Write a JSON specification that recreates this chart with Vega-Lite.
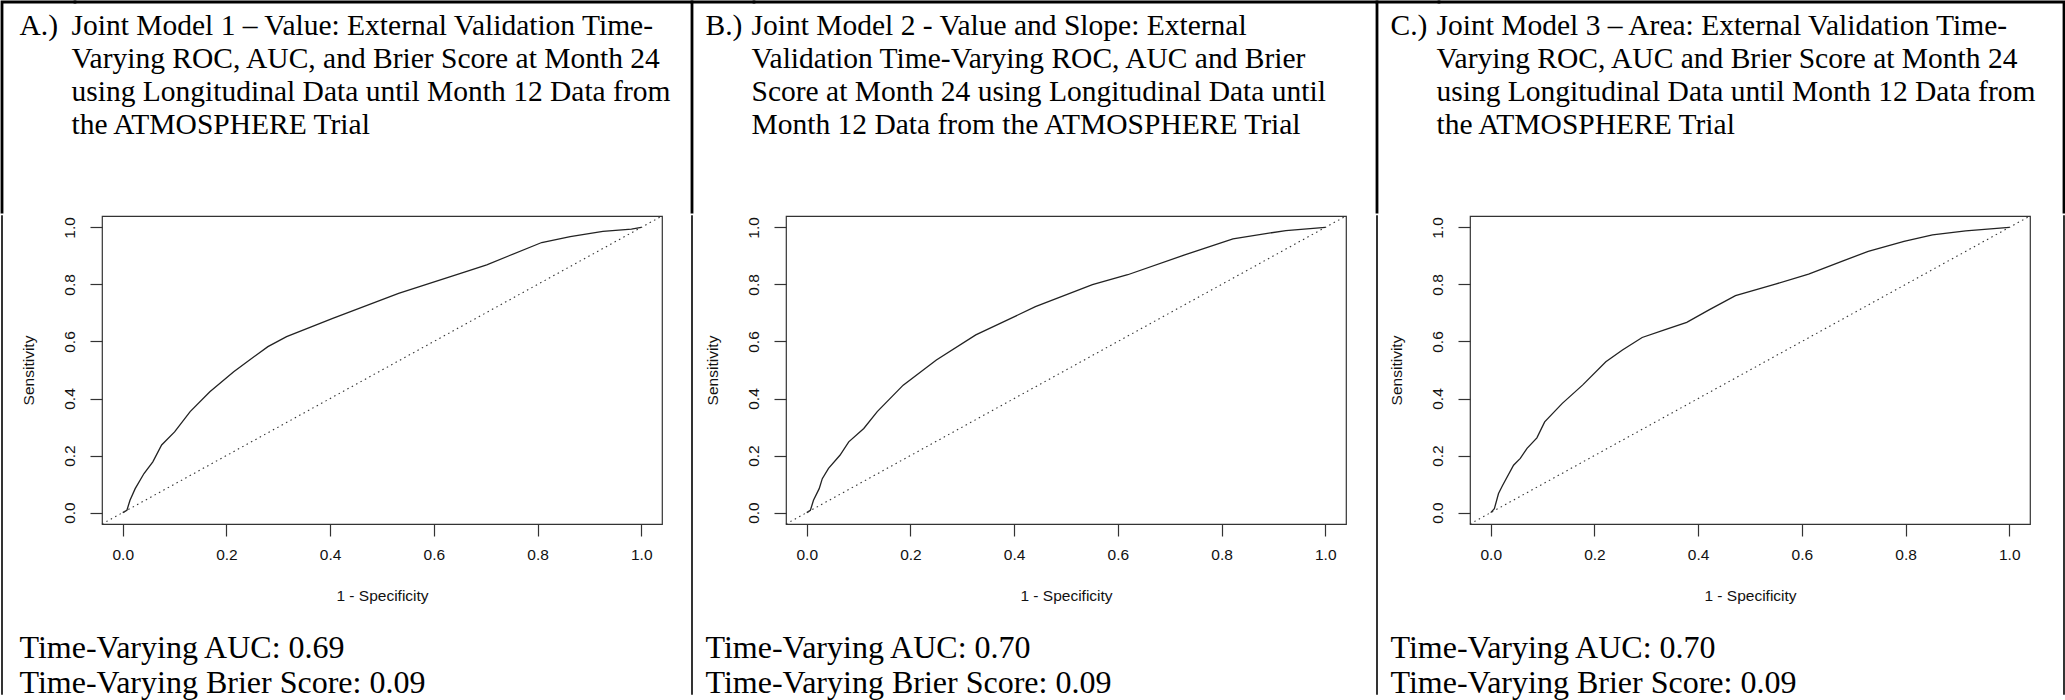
{
  "$schema": "https://vega.github.io/schema/vega-lite/v6.json",
  "padding": 0,
  "background": "white",
  "usermeta": {"embedOptions": {"actions": false}},
  "config": {
    "view": {"stroke": "#333", "strokeWidth": 1.2},
    "axis": {"grid": false, "domain": false, "labelFont": "Liberation Sans", "labelFontSize": 15.5, "labelColor": "#111", "titleFont": "Liberation Sans", "titleFontSize": 15.5, "titleFontWeight": "normal", "titleColor": "#111", "tickColor": "#333", "tickSize": 12, "tickWidth": 1.2, "labelFlush": false, "labelOverlap": false},
    "title": {"font": "Liberation Serif", "fontSize": 29.5, "fontWeight": "normal", "color": "black", "anchor": "start", "lineHeight": 33, "frame": "group"}
  },
  "datasets": {
    "rocA": [
      {"fpr": 0, "tpr": 0}, {"fpr": 0.008, "tpr": 0.008}, {"fpr": 0.014, "tpr": 0.043}, {"fpr": 0.024, "tpr": 0.084}, {"fpr": 0.041, "tpr": 0.137}, {"fpr": 0.058, "tpr": 0.178}, {"fpr": 0.075, "tpr": 0.237}, {"fpr": 0.1, "tpr": 0.283}, {"fpr": 0.13, "tpr": 0.354}, {"fpr": 0.168, "tpr": 0.424}, {"fpr": 0.214, "tpr": 0.494}, {"fpr": 0.24, "tpr": 0.529}, {"fpr": 0.28, "tpr": 0.582}, {"fpr": 0.316, "tpr": 0.617}, {"fpr": 0.405, "tpr": 0.681}, {"fpr": 0.532, "tpr": 0.769}, {"fpr": 0.659, "tpr": 0.843}, {"fpr": 0.702, "tpr": 0.869}, {"fpr": 0.808, "tpr": 0.947}, {"fpr": 0.863, "tpr": 0.968}, {"fpr": 0.926, "tpr": 0.986}, {"fpr": 0.981, "tpr": 0.994}, {"fpr": 1, "tpr": 1}
    ],
    "rocB": [
      {"fpr": 0, "tpr": 0}, {"fpr": 0.007, "tpr": 0.008}, {"fpr": 0.013, "tpr": 0.043}, {"fpr": 0.024, "tpr": 0.084}, {"fpr": 0.03, "tpr": 0.119}, {"fpr": 0.042, "tpr": 0.155}, {"fpr": 0.064, "tpr": 0.201}, {"fpr": 0.081, "tpr": 0.248}, {"fpr": 0.11, "tpr": 0.295}, {"fpr": 0.136, "tpr": 0.354}, {"fpr": 0.186, "tpr": 0.447}, {"fpr": 0.25, "tpr": 0.535}, {"fpr": 0.326, "tpr": 0.623}, {"fpr": 0.441, "tpr": 0.722}, {"fpr": 0.551, "tpr": 0.799}, {"fpr": 0.619, "tpr": 0.834}, {"fpr": 0.729, "tpr": 0.904}, {"fpr": 0.822, "tpr": 0.96}, {"fpr": 0.924, "tpr": 0.989}, {"fpr": 1, "tpr": 1}
    ],
    "rocC": [
      {"fpr": 0, "tpr": 0}, {"fpr": 0.007, "tpr": 0.014}, {"fpr": 0.015, "tpr": 0.067}, {"fpr": 0.023, "tpr": 0.096}, {"fpr": 0.044, "tpr": 0.166}, {"fpr": 0.057, "tpr": 0.19}, {"fpr": 0.07, "tpr": 0.225}, {"fpr": 0.089, "tpr": 0.262}, {"fpr": 0.104, "tpr": 0.318}, {"fpr": 0.138, "tpr": 0.383}, {"fpr": 0.177, "tpr": 0.447}, {"fpr": 0.222, "tpr": 0.529}, {"fpr": 0.254, "tpr": 0.57}, {"fpr": 0.292, "tpr": 0.614}, {"fpr": 0.335, "tpr": 0.641}, {"fpr": 0.378, "tpr": 0.667}, {"fpr": 0.421, "tpr": 0.711}, {"fpr": 0.472, "tpr": 0.761}, {"fpr": 0.549, "tpr": 0.801}, {"fpr": 0.613, "tpr": 0.836}, {"fpr": 0.677, "tpr": 0.881}, {"fpr": 0.728, "tpr": 0.916}, {"fpr": 0.797, "tpr": 0.951}, {"fpr": 0.852, "tpr": 0.974}, {"fpr": 0.916, "tpr": 0.988}, {"fpr": 1, "tpr": 1}
    ]
  },
  "spacing": 0,
  "vconcat": [
    {
      "spacing": 0,
      "bounds": "flush",
      "hconcat": [
        {"width": 73, "height": 210, "data": {"values": []}, "mark": "point", "view": {"stroke": "black", "strokeWidth": 2.8, "strokeCap": "square", "strokeDash": [73, 283, 210]},
         "title": {"text": ["A.)", "\u00a0", "\u00a0", "\u00a0"], "dx": 17.5, "offset": -138}},
        {"width": 617, "height": 210, "data": {"values": []}, "mark": "point", "view": {"stroke": "black", "strokeWidth": 2.8, "strokeCap": "square", "strokeDash": [827, 827]},
         "title": {"text": ["Joint Model 1 – Value: External Validation Time-", "Varying ROC, AUC, and Brier Score at Month 24", "using Longitudinal Data until Month 12 Data from", "the ATMOSPHERE Trial"], "dx": -3.5, "offset": -138}},
        {"width": 62, "height": 210, "data": {"values": []}, "mark": "point", "view": {"stroke": "black", "strokeWidth": 2.8, "strokeCap": "square", "strokeDash": [62, 482]},
         "title": {"text": ["B.)", "\u00a0", "\u00a0", "\u00a0"], "dx": 13.5, "offset": -138}},
        {"width": 623, "height": 210, "data": {"values": []}, "mark": "point", "view": {"stroke": "black", "strokeWidth": 2.8, "strokeCap": "square", "strokeDash": [833, 833]},
         "title": {"text": ["Joint Model 2 - Value and Slope: External", "Validation Time-Varying ROC, AUC and Brier", "Score at Month 24 using Longitudinal Data until", "Month 12 Data from the ATMOSPHERE Trial"], "dx": -2.5, "offset": -138}},
        {"width": 62, "height": 210, "data": {"values": []}, "mark": "point", "view": {"stroke": "black", "strokeWidth": 2.8, "strokeCap": "square", "strokeDash": [62, 482]},
         "title": {"text": ["C.)", "\u00a0", "\u00a0", "\u00a0"], "dx": 13.5, "offset": -138}},
        {"width": 625, "height": 210, "data": {"values": []}, "mark": "point", "view": {"stroke": "black", "strokeWidth": 2.8, "strokeCap": "square", "strokeDash": [835, 835]},
         "title": {"text": ["Joint Model 3 – Area: External Validation Time-", "Varying ROC, AUC and Brier Score at Month 24", "using Longitudinal Data until Month 12 Data from", "the ATMOSPHERE Trial"], "dx": -2.5, "offset": -138}}
      ]
    },
    {
      "spacing": 0,
      "bounds": "flush",
      "hconcat": [
        {"width": 100, "height": 478, "data": {"values": []}, "mark": "point", "view": {"stroke": "black", "strokeWidth": 1.6, "strokeCap": "square", "strokeDash": [478, 678], "strokeDashOffset": 478}},
        {
          "width": 560, "height": 308,
          "title": {"text": ["Time-Varying AUC: 0.69", "Time-Varying Brier Score: 0.09"], "orient": "bottom", "fontSize": 32, "lineHeight": 35.5, "offset": 29, "dx": -82.5},
          "layer": [
            {"data": {"name": "rocA"}, "mark": {"type": "line", "color": "#222", "strokeWidth": 1.3},
             "encoding": {
               "x": {"field": "fpr", "type": "quantitative", "scale": {"domain": [-0.04, 1.04], "nice": false, "zero": false}, "axis": {"values": [0, 0.2, 0.4, 0.6, 0.8, 1], "format": ".1f", "title": "1 - Specificity", "labelPadding": 11.5, "titlePadding": 25}},
               "y": {"field": "tpr", "type": "quantitative", "scale": {"domain": [-0.04, 1.04], "nice": false, "zero": false}, "axis": {"values": [0, 0.2, 0.4, 0.6, 0.8, 1], "format": ".1f", "title": "Sensitivity", "labelAngle": -90, "labelAlign": "center", "labelBaseline": "bottom", "labelPadding": 12.5, "titlePadding": 26}}
             }},
            {"data": {"values": [{}]}, "mark": {"type": "rule", "color": "#333", "strokeWidth": 1.1, "strokeDash": [1.5, 3.5]},
             "encoding": {"x": {"datum": -0.04}, "y": {"datum": -0.04}, "x2": {"datum": 1.04}, "y2": {"datum": 1.04}}}
          ]
        },
        {"width": 30, "height": 478, "data": {"values": []}, "mark": "point", "view": {"stroke": "black", "strokeWidth": 1.6, "strokeCap": "square", "strokeDash": [478, 538], "strokeDashOffset": 986}},
        {"width": 94, "height": 478, "data": {"values": []}, "mark": "point", "view": {"stroke": null}},
        {
          "width": 560, "height": 308,
          "title": {"text": ["Time-Varying AUC: 0.70", "Time-Varying Brier Score: 0.09"], "orient": "bottom", "fontSize": 32, "lineHeight": 35.5, "offset": 29, "dx": -80.5},
          "layer": [
            {"data": {"name": "rocB"}, "mark": {"type": "line", "color": "#222", "strokeWidth": 1.3},
             "encoding": {
               "x": {"field": "fpr", "type": "quantitative", "scale": {"domain": [-0.04, 1.04], "nice": false, "zero": false}, "axis": {"values": [0, 0.2, 0.4, 0.6, 0.8, 1], "format": ".1f", "title": "1 - Specificity", "labelPadding": 11.5, "titlePadding": 25}},
               "y": {"field": "tpr", "type": "quantitative", "scale": {"domain": [-0.04, 1.04], "nice": false, "zero": false}, "axis": {"values": [0, 0.2, 0.4, 0.6, 0.8, 1], "format": ".1f", "title": "Sensitivity", "labelAngle": -90, "labelAlign": "center", "labelBaseline": "bottom", "labelPadding": 12.5, "titlePadding": 26}}
             }},
            {"data": {"values": [{}]}, "mark": {"type": "rule", "color": "#333", "strokeWidth": 1.1, "strokeDash": [1.5, 3.5]},
             "encoding": {"x": {"datum": -0.04}, "y": {"datum": -0.04}, "x2": {"datum": 1.04}, "y2": {"datum": 1.04}}}
          ]
        },
        {"width": 31, "height": 478, "data": {"values": []}, "mark": "point", "view": {"stroke": "black", "strokeWidth": 1.6, "strokeCap": "square", "strokeDash": [478, 540], "strokeDashOffset": 987}},
        {"width": 93, "height": 478, "data": {"values": []}, "mark": "point", "view": {"stroke": null}},
        {
          "width": 560, "height": 308,
          "title": {"text": ["Time-Varying AUC: 0.70", "Time-Varying Brier Score: 0.09"], "orient": "bottom", "fontSize": 32, "lineHeight": 35.5, "offset": 29, "dx": -79.5},
          "layer": [
            {"data": {"name": "rocC"}, "mark": {"type": "line", "color": "#222", "strokeWidth": 1.3},
             "encoding": {
               "x": {"field": "fpr", "type": "quantitative", "scale": {"domain": [-0.04, 1.04], "nice": false, "zero": false}, "axis": {"values": [0, 0.2, 0.4, 0.6, 0.8, 1], "format": ".1f", "title": "1 - Specificity", "labelPadding": 11.5, "titlePadding": 25}},
               "y": {"field": "tpr", "type": "quantitative", "scale": {"domain": [-0.04, 1.04], "nice": false, "zero": false}, "axis": {"values": [0, 0.2, 0.4, 0.6, 0.8, 1], "format": ".1f", "title": "Sensitivity", "labelAngle": -90, "labelAlign": "center", "labelBaseline": "bottom", "labelPadding": 12.5, "titlePadding": 26}}
             }},
            {"data": {"values": [{}]}, "mark": {"type": "rule", "color": "#333", "strokeWidth": 1.1, "strokeDash": [1.5, 3.5]},
             "encoding": {"x": {"datum": -0.04}, "y": {"datum": -0.04}, "x2": {"datum": 1.04}, "y2": {"datum": 1.04}}}
          ]
        },
        {"width": 34, "height": 478, "data": {"values": []}, "mark": "point", "view": {"stroke": "black", "strokeWidth": 1.6, "strokeCap": "square", "strokeDash": [478, 546], "strokeDashOffset": 990}}
      ]
    }
  ]
}
